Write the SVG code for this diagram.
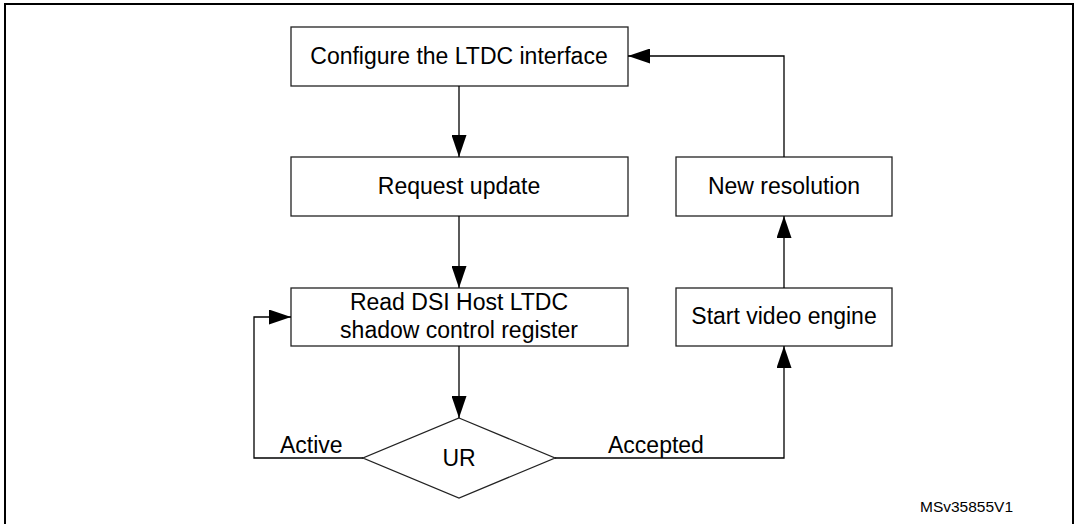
<svg xmlns="http://www.w3.org/2000/svg" width="1085" height="524" viewBox="0 0 1085 524">
<style>
.b{fill:#fff;stroke:#222;stroke-width:1.3}
.t{font-family:"Liberation Sans",Arial,sans-serif;font-size:23px;fill:#000}
.c{fill:none;stroke:#000;stroke-width:1.3;marker-end:url(#a)}
</style>
<defs><marker id="a" markerWidth="22" markerHeight="15" refX="22" refY="7.5" orient="auto" markerUnits="userSpaceOnUse"><path d="M0,0L22,7.5L0,15z" fill="#000"/></marker></defs>
<rect x="0" y="0" width="1085" height="524" fill="#fff"/>
<path d="M5,524V4H1073V524" fill="none" stroke="#000" stroke-width="2"/>
<g id="n1"><rect class="b" x="291" y="27" width="337" height="59"/><text class="t" x="459" y="64" text-anchor="middle">Configure the LTDC interface</text></g>
<g id="n2"><rect class="b" x="291" y="157" width="337" height="59"/><text class="t" x="459" y="194" text-anchor="middle">Request update</text></g>
<g id="n3"><rect class="b" x="291" y="288" width="337" height="58"/><text class="t" x="459" y="310" text-anchor="middle">Read DSI Host LTDC</text><text class="t" x="459" y="338" text-anchor="middle">shadow control register</text></g>
<g id="n4"><path class="b" d="M459,418L555,458L459,498L363,458z"/><text class="t" x="459" y="466" text-anchor="middle">UR</text></g>
<g id="n5"><rect class="b" x="676" y="288" width="216" height="58"/><text class="t" x="784" y="324" text-anchor="middle">Start video engine</text></g>
<g id="n6"><rect class="b" x="676" y="157" width="216" height="59"/><text class="t" x="784" y="194" text-anchor="middle">New resolution</text></g>
<g id="connectors">
<path class="c" d="M459,86V157"/>
<path class="c" d="M459,216V288"/>
<path class="c" d="M459,346V418"/>
<path class="c" d="M363,458H254V317H291"/>
<path class="c" d="M555,458H784V346"/>
<path class="c" d="M784,288V216"/>
<path class="c" d="M784,157V56H628"/>
<text class="t" x="280" y="453">Active</text>
<text class="t" x="608" y="453">Accepted</text>
</g>
<text x="920" y="512" style="font-family:'Liberation Sans',Arial,sans-serif;font-size:15.5px">MSv35855V1</text>
</svg>
